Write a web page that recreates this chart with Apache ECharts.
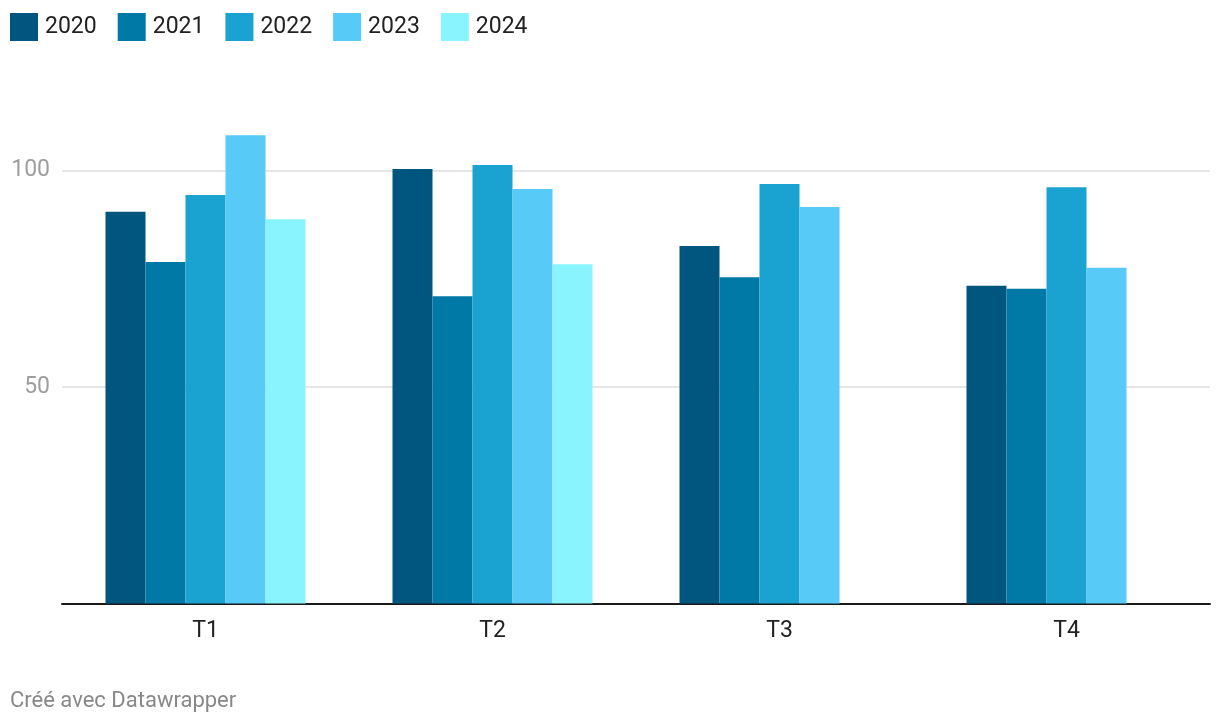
<!DOCTYPE html>
<html><head><meta charset="utf-8">
<script src="https://cdn.jsdelivr.net/npm/echarts@6/dist/echarts.min.js"></script>
<style>html,body{margin:0;padding:0;background:#fff}#c{width:1220px;height:726px}</style>
</head><body><div id="c"></div>
<script>
const categories = ['T1', 'T2', 'T3', 'T4'];
const years = ['2020', '2021', '2022', '2023', '2024'];
const v2020 = [90.5, 100.4, 82.6, 73.4];
const v2021 = [78.9, 71.0, 75.4, 72.7];
const v2022 = [94.4, 101.3, 96.9, 96.2];
const v2023 = [108.2, 95.8, 91.6, 77.6];
const v2024 = [88.8, 78.4, null, null];
const colors = ['#00567e', '#0079a6', '#1aa2d0', '#57caf7', '#89f4fe'];
const values = [v2020, v2021, v2022, v2023, v2024];

const chart = echarts.init(document.getElementById('c'));
chart.setOption({
  animation: false,
  textStyle: { fontFamily: 'Roboto' },
  legend: {
    left: 10, top: 13, padding: 0, itemWidth: 28, itemHeight: 28, itemGap: 21,
    icon: 'rect',
    textStyle: { fontSize: 23, color: '#222', fontFamily: 'Roboto', padding: [0, 0, 0, 2] },
    data: years
  },
  graphic: [{
    type: 'text', left: 10, top: 690,
    style: { text: 'Créé avec Datawrapper', fill: '#888', font: '22px Roboto' }
  }],
  grid: { left: 62, right: 10, top: 62.5, bottom: 122.5 },
  xAxis: {
    type: 'category', data: categories,
    axisLine: { lineStyle: { color: '#1a1a1a', width: 2 } },
    axisTick: { show: false },
    axisLabel: { fontSize: 23, color: '#222', margin: 16 }
  },
  yAxis: {
    type: 'value', min: 0, max: 125, interval: 50,
    axisLine: { show: false }, axisTick: { show: false },
    axisLabel: { fontSize: 23, color: '#9e9e9e', margin: 12, showMaxLabel: false,
      formatter: v => (v === 0 ? '' : v) },
    splitLine: { showMaxLine: false, lineStyle: { color: '#e6e6e6', width: 2 } }
  },
  series: years.map((y, i) => ({
    name: y, type: 'bar', data: values[i], barWidth: 40, barGap: '0%',
    itemStyle: { color: colors[i] }
  }))
});
</script></body></html>
